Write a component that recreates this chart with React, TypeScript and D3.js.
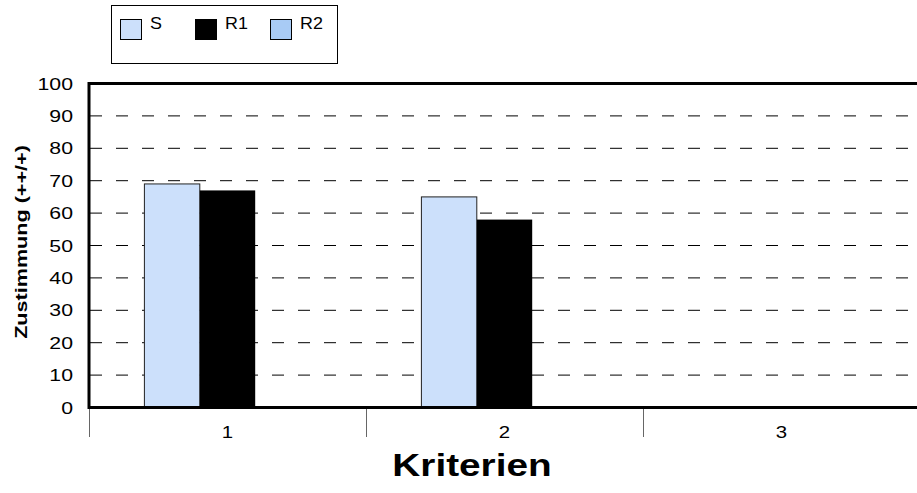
import React from "react";
import * as d3 from "d3";

const categories = ["1", "2", "3"];
const seriesNames = ["S", "R1", "R2"];
const valuesS = [69, 65, null];
const valuesR1 = [67, 58, null];
const valuesR2 = [null, null, null];
const yTicks = [0, 10, 20, 30, 40, 50, 60, 70, 80, 90, 100];
const seriesColors = ["#cce0fb", "#000000", "#a8cbf5"];
const xTitle = "Kriterien";
const yTitle = "Zustimmung (++/+)";

const W = 917;
const H = 493;
const FONT = "'Liberation Sans', Arial, Helvetica, sans-serif";

export default function App() {
  const left = 89;
  const top = 83.5;
  const bottom = 407.5;
  const right = 920;
  const y = d3.scaleLinear().domain([0, 100]).range([bottom, top]);
  const x = d3.scaleBand().domain(categories).range([left, right]).padding(0);
  const bw = x.bandwidth();
  const inner = d3
    .scaleBand()
    .domain(seriesNames)
    .range([bw / 5, (bw * 4) / 5])
    .padding(0);
  const allSeries = [valuesS, valuesR1, valuesR2];

  return (
    <svg
      width={W}
      height={H}
      style={{ position: "absolute", left: 0, top: 0, background: "#fff" }}
      fontFamily={FONT}
    >
      {/* legend */}
      <rect x={111.5} y={5.5} width={226} height={58} fill="#fff" stroke="#000" strokeWidth={1} />
      {seriesNames.map((s, i) => {
        const lx = [120, 195, 270][i];
        return (
          <g key={s}>
            <rect
              x={lx + 0.5}
              y={19.5}
              width={21}
              height={20}
              fill={seriesColors[i]}
              stroke="#000"
              strokeWidth={1}
            />
            <text
              transform={`translate(${lx + 30},29) scale(1.12,1)`}
              fontSize={16}
              fill="#000"
            >
              {s}
            </text>
          </g>
        );
      })}

      {/* gridlines */}
      {yTicks
        .filter((t) => t > 0 && t < 100)
        .map((t) => (
          <line
            key={t}
            x1={left + 1}
            x2={W}
            y1={y(t)}
            y2={y(t)}
            stroke="#000"
            strokeWidth={1}
            strokeDasharray="12,14"
          />
        ))}

      {/* bars */}
      {categories.map((c, ci) =>
        allSeries.map((vals, si) => {
          const v = vals[ci];
          if (v == null) return null;
          const bx = (x(c) as number) + (inner(seriesNames[si]) as number);
          return (
            <rect
              key={c + si}
              x={bx}
              y={y(v)}
              width={inner.bandwidth()}
              height={y(0) - y(v)}
              fill={seriesColors[si]}
              stroke={si === 1 ? "none" : "#222"}
              strokeWidth={1}
            />
          );
        })
      )}

      {/* plot border */}
      <line x1={left} x2={W} y1={top} y2={top} stroke="#000" strokeWidth={3} />
      <line x1={left} x2={left} y1={top - 1.5} y2={bottom + 1.5} stroke="#000" strokeWidth={3} />
      <line x1={left} x2={W} y1={bottom} y2={bottom} stroke="#000" strokeWidth={3} />

      {/* category ticks */}
      {categories.map((c) => (
        <line
          key={"t" + c}
          x1={Math.round(x(c) as number) + 0.5}
          x2={Math.round(x(c) as number) + 0.5}
          y1={bottom + 1.5}
          y2={437}
          stroke="#666"
          strokeWidth={1}
        />
      ))}
      {categories.map((c) => (
        <text
          key={"l" + c}
          transform={`translate(${(x(c) as number) + bw / 2},438) scale(1.2,1)`}
          fontSize={17}
          textAnchor="middle"
          fill="#000"
        >
          {c}
        </text>
      ))}

      {/* y tick labels */}
      {yTicks.map((t) => (
        <text
          key={"y" + t}
          transform={`translate(73,${y(t) + 6}) scale(1.25,1)`}
          fontSize={17}
          textAnchor="end"
          fill="#000"
        >
          {t}
        </text>
      ))}

      {/* titles */}
      <text
        transform={`translate(472,476) scale(1.25,1)`}
        fontSize={31}
        fontWeight="bold"
        textAnchor="middle"
        fill="#000"
      >
        {xTitle}
      </text>
      <text
        transform={`translate(27,242) rotate(-90) scale(1.27,1)`}
        fontSize={17}
        fontWeight="bold"
        textAnchor="middle"
        fill="#000"
      >
        {yTitle}
      </text>
    </svg>
  );
}
